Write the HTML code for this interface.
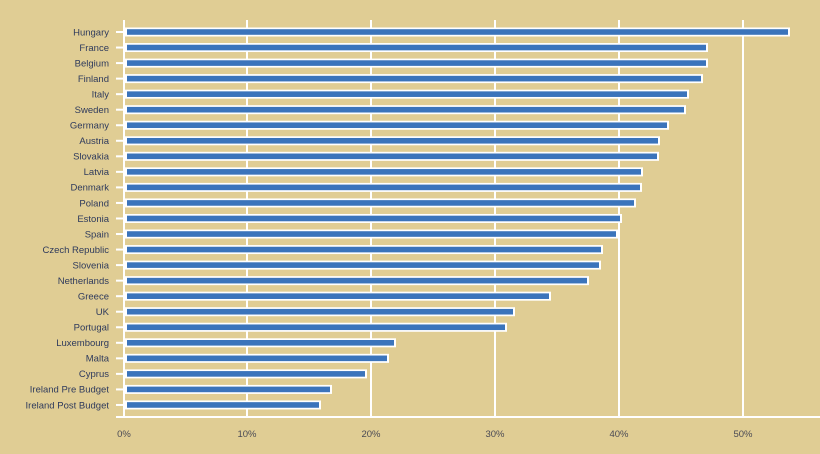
<!DOCTYPE html>
<html><head><meta charset="utf-8"><style>
html,body{margin:0;padding:0;background:#e0cd94;}
svg{display:block;}
</style></head><body>
<svg width="820" height="454" viewBox="0 0 820 454" xmlns="http://www.w3.org/2000/svg">
<rect width="820" height="454" fill="#e0cd94"/>
<g stroke="#fff" stroke-width="2">
<line x1="247" y1="20" x2="247" y2="417"/>
<line x1="371" y1="20" x2="371" y2="417"/>
<line x1="495" y1="20" x2="495" y2="417"/>
<line x1="619" y1="20" x2="619" y2="417"/>
<line x1="743" y1="20" x2="743" y2="417"/>
<line x1="124" y1="20" x2="124" y2="417"/>
<line x1="116" y1="417" x2="820" y2="417"/>
</g>
<g font-family="Liberation Sans, sans-serif" font-size="9.5" fill="#2e3a5c" text-anchor="end">
<g transform="translate(0,32)"><line x1="116" x2="123" stroke="#fff" stroke-width="2"/><rect x="125" y="-4.5" width="665" height="9" fill="#fff"/><rect x="127" y="-2.8" width="661" height="5.6" fill="#3b74bb"/><text x="109" y="3.3">Hungary</text></g>
<g transform="translate(0,47.54)"><line x1="116" x2="123" stroke="#fff" stroke-width="2"/><rect x="125" y="-4.5" width="583" height="9" fill="#fff"/><rect x="127" y="-2.8" width="579" height="5.6" fill="#3b74bb"/><text x="109" y="3.3">France</text></g>
<g transform="translate(0,63.08)"><line x1="116" x2="123" stroke="#fff" stroke-width="2"/><rect x="125" y="-4.5" width="583" height="9" fill="#fff"/><rect x="127" y="-2.8" width="579" height="5.6" fill="#3b74bb"/><text x="109" y="3.3">Belgium</text></g>
<g transform="translate(0,78.62)"><line x1="116" x2="123" stroke="#fff" stroke-width="2"/><rect x="125" y="-4.5" width="578" height="9" fill="#fff"/><rect x="127" y="-2.8" width="574" height="5.6" fill="#3b74bb"/><text x="109" y="3.3">Finland</text></g>
<g transform="translate(0,94.16)"><line x1="116" x2="123" stroke="#fff" stroke-width="2"/><rect x="125" y="-4.5" width="564" height="9" fill="#fff"/><rect x="127" y="-2.8" width="560" height="5.6" fill="#3b74bb"/><text x="109" y="3.3">Italy</text></g>
<g transform="translate(0,109.7)"><line x1="116" x2="123" stroke="#fff" stroke-width="2"/><rect x="125" y="-4.5" width="561" height="9" fill="#fff"/><rect x="127" y="-2.8" width="557" height="5.6" fill="#3b74bb"/><text x="109" y="3.3">Sweden</text></g>
<g transform="translate(0,125.24)"><line x1="116" x2="123" stroke="#fff" stroke-width="2"/><rect x="125" y="-4.5" width="544" height="9" fill="#fff"/><rect x="127" y="-2.8" width="540" height="5.6" fill="#3b74bb"/><text x="109" y="3.3">Germany</text></g>
<g transform="translate(0,140.78)"><line x1="116" x2="123" stroke="#fff" stroke-width="2"/><rect x="125" y="-4.5" width="535" height="9" fill="#fff"/><rect x="127" y="-2.8" width="531" height="5.6" fill="#3b74bb"/><text x="109" y="3.3">Austria</text></g>
<g transform="translate(0,156.32)"><line x1="116" x2="123" stroke="#fff" stroke-width="2"/><rect x="125" y="-4.5" width="534" height="9" fill="#fff"/><rect x="127" y="-2.8" width="530" height="5.6" fill="#3b74bb"/><text x="109" y="3.3">Slovakia</text></g>
<g transform="translate(0,171.86)"><line x1="116" x2="123" stroke="#fff" stroke-width="2"/><rect x="125" y="-4.5" width="518" height="9" fill="#fff"/><rect x="127" y="-2.8" width="514" height="5.6" fill="#3b74bb"/><text x="109" y="3.3">Latvia</text></g>
<g transform="translate(0,187.4)"><line x1="116" x2="123" stroke="#fff" stroke-width="2"/><rect x="125" y="-4.5" width="517" height="9" fill="#fff"/><rect x="127" y="-2.8" width="513" height="5.6" fill="#3b74bb"/><text x="109" y="3.3">Denmark</text></g>
<g transform="translate(0,202.94)"><line x1="116" x2="123" stroke="#fff" stroke-width="2"/><rect x="125" y="-4.5" width="511" height="9" fill="#fff"/><rect x="127" y="-2.8" width="507" height="5.6" fill="#3b74bb"/><text x="109" y="3.3">Poland</text></g>
<g transform="translate(0,218.48)"><line x1="116" x2="123" stroke="#fff" stroke-width="2"/><rect x="125" y="-4.5" width="497" height="9" fill="#fff"/><rect x="127" y="-2.8" width="493" height="5.6" fill="#3b74bb"/><text x="109" y="3.3">Estonia</text></g>
<g transform="translate(0,234.02)"><line x1="116" x2="123" stroke="#fff" stroke-width="2"/><rect x="125" y="-4.5" width="493" height="9" fill="#fff"/><rect x="127" y="-2.8" width="489" height="5.6" fill="#3b74bb"/><text x="109" y="3.3">Spain</text></g>
<g transform="translate(0,249.56)"><line x1="116" x2="123" stroke="#fff" stroke-width="2"/><rect x="125" y="-4.5" width="478" height="9" fill="#fff"/><rect x="127" y="-2.8" width="474" height="5.6" fill="#3b74bb"/><text x="109" y="3.3">Czech Republic</text></g>
<g transform="translate(0,265.1)"><line x1="116" x2="123" stroke="#fff" stroke-width="2"/><rect x="125" y="-4.5" width="476" height="9" fill="#fff"/><rect x="127" y="-2.8" width="472" height="5.6" fill="#3b74bb"/><text x="109" y="3.3">Slovenia</text></g>
<g transform="translate(0,280.64)"><line x1="116" x2="123" stroke="#fff" stroke-width="2"/><rect x="125" y="-4.5" width="464" height="9" fill="#fff"/><rect x="127" y="-2.8" width="460" height="5.6" fill="#3b74bb"/><text x="109" y="3.3">Netherlands</text></g>
<g transform="translate(0,296.18)"><line x1="116" x2="123" stroke="#fff" stroke-width="2"/><rect x="125" y="-4.5" width="426" height="9" fill="#fff"/><rect x="127" y="-2.8" width="422" height="5.6" fill="#3b74bb"/><text x="109" y="3.3">Greece</text></g>
<g transform="translate(0,311.72)"><line x1="116" x2="123" stroke="#fff" stroke-width="2"/><rect x="125" y="-4.5" width="390" height="9" fill="#fff"/><rect x="127" y="-2.8" width="386" height="5.6" fill="#3b74bb"/><text x="109" y="3.3">UK</text></g>
<g transform="translate(0,327.26)"><line x1="116" x2="123" stroke="#fff" stroke-width="2"/><rect x="125" y="-4.5" width="382" height="9" fill="#fff"/><rect x="127" y="-2.8" width="378" height="5.6" fill="#3b74bb"/><text x="109" y="3.3">Portugal</text></g>
<g transform="translate(0,342.8)"><line x1="116" x2="123" stroke="#fff" stroke-width="2"/><rect x="125" y="-4.5" width="271" height="9" fill="#fff"/><rect x="127" y="-2.8" width="267" height="5.6" fill="#3b74bb"/><text x="109" y="3.3">Luxembourg</text></g>
<g transform="translate(0,358.34)"><line x1="116" x2="123" stroke="#fff" stroke-width="2"/><rect x="125" y="-4.5" width="264" height="9" fill="#fff"/><rect x="127" y="-2.8" width="260" height="5.6" fill="#3b74bb"/><text x="109" y="3.3">Malta</text></g>
<g transform="translate(0,373.88)"><line x1="116" x2="123" stroke="#fff" stroke-width="2"/><rect x="125" y="-4.5" width="242" height="9" fill="#fff"/><rect x="127" y="-2.8" width="238" height="5.6" fill="#3b74bb"/><text x="109" y="3.3">Cyprus</text></g>
<g transform="translate(0,389.42)"><line x1="116" x2="123" stroke="#fff" stroke-width="2"/><rect x="125" y="-4.5" width="207" height="9" fill="#fff"/><rect x="127" y="-2.8" width="203" height="5.6" fill="#3b74bb"/><text x="109" y="3.3">Ireland Pre Budget</text></g>
<g transform="translate(0,404.96)"><line x1="116" x2="123" stroke="#fff" stroke-width="2"/><rect x="125" y="-4.5" width="196" height="9" fill="#fff"/><rect x="127" y="-2.8" width="192" height="5.6" fill="#3b74bb"/><text x="109" y="3.3">Ireland Post Budget</text></g>
</g>
<g font-family="Liberation Sans, sans-serif" font-size="9.5" fill="#4a4a55" text-anchor="middle">
<text x="124" y="437">0%</text><text x="247" y="437">10%</text><text x="371" y="437">20%</text>
<text x="495" y="437">30%</text><text x="619" y="437">40%</text><text x="743" y="437">50%</text>
</g>
</svg>
</body></html>
